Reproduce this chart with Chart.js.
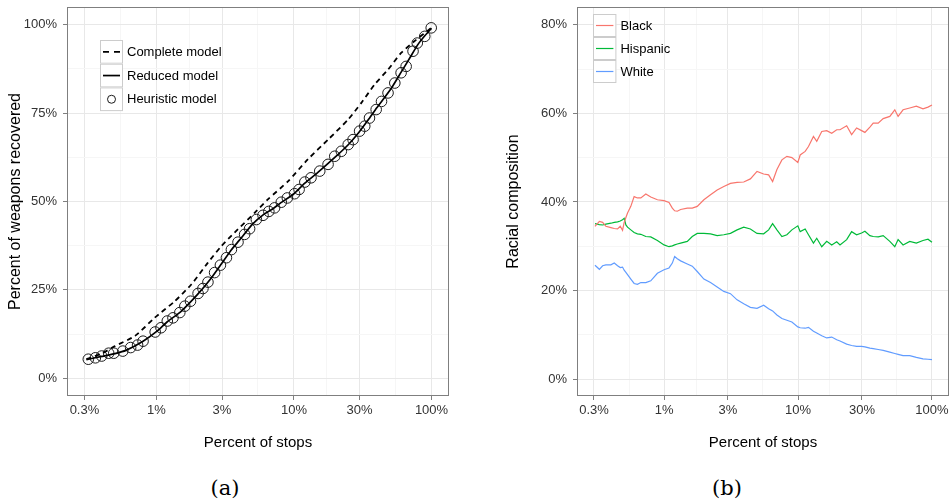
<!DOCTYPE html>
<html>
<head>
<meta charset="utf-8">
<script src="https://cdn.jsdelivr.net/npm/chart.js@4.4.1/dist/chart.umd.min.js"></script>
<style>
  body { margin:0; background:#fff; width:950px; height:502px; position:relative; overflow:hidden; }
  canvas { position:absolute; top:0; }
  #chartA { left:0; }
  #chartB { left:470px; }
  .cap { position:absolute; top:476px; line-height:24px; font-family:"DejaVu Serif", serif; font-size:21px; color:#000; transform:translateX(-50%); }
</style>
</head>
<body>
<canvas id="chartA" width="460" height="460"></canvas>
<canvas id="chartB" width="480" height="460"></canvas>
<div class="cap" style="left:225px">(a)</div>
<div class="cap" style="left:727px">(b)</div>
<script>
const FONT = '"Liberation Sans", Arial, Helvetica, sans-serif';
const MAJOR = '#e8e8e8', MINOR = '#f6f6f6', FRAME = '#7f7f7f';

// ---- panel (a): weapons recovered vs percent of stops
const heuristicStops = [0.32,0.36,0.40,0.45,0.49,0.57,0.65,0.73,0.80,0.98,1.08,1.20,1.32,1.48,1.61,1.77,2.01,2.18,2.37,2.65,2.92,3.23,3.51,3.92,4.38,4.76,5.33,5.96,6.57,7.23,8.09,8.95,10.1,10.9,12.0,13.3,15.4,17.7,19.8,22.1,24.8,26.9,30.0,32.7,35.4,39.6,43.3,48.3,54.1,60.1,65.4,73.4,78.8,89.3,99.5];
const heuristicVals = [5.4,5.8,6.3,7.1,7.1,7.7,8.7,9.4,10.5,13.1,14.3,16.2,17.1,18.6,20.4,21.8,24.0,25.4,27.2,29.9,32.0,34.1,36.4,38.5,40.7,42.3,44.9,46.1,47.2,48.2,49.8,51.0,52.2,53.4,55.5,56.7,58.6,60.5,62.8,64.2,66.1,67.5,69.9,71.3,73.6,76.0,78.3,80.7,83.5,86.4,88.2,92.5,94.8,96.7,99.1];
const reducedStops = [0.31,0.4,0.5,0.6,0.8,1,1.2,1.5,2,2.5,3,3.5,4,5,6,7,8,10,12,15,20,25,30,35,40,50,60,70,80,90,100];
const reducedVals = [5.3,6.2,7.0,7.9,10.5,13.2,16.0,18.8,23.8,28.3,32.6,36.3,39.0,43.6,46.3,47.9,49.6,52.2,55.2,58.3,62.6,66.2,69.8,73.3,76.5,81.5,86.5,90.8,94.5,97.0,99.0];
const completeStops = [0.31,0.4,0.5,0.7,0.97,1.36,1.8,2.37,2.97,3.7,5.18,6.46,9.05,12.6,17.7,24.8,30.9,38.6,48.3,60.1,75,99.5];
const completeVals = [5.4,7.0,9.1,12.0,17.1,21.8,26.6,32.7,37.4,41.2,46.8,50.6,55.7,61.9,67.5,73.2,77.9,83.1,87.3,92.0,95.3,99.1];

// ---- panel (b): racial composition vs percent of stops
const stopsB = [0.305,0.329,0.348,0.368,0.401,0.425,0.450,0.471,0.490,0.504,0.519,0.534,0.565,0.598,0.633,0.671,0.731,0.796,0.892,1.0,1.089,1.153,1.200,1.256,1.330,1.491,1.624,1.769,1.983,2.223,2.492,2.793,3.131,3.510,3.934,4.410,4.943,5.541,6.035,6.462,6.960,7.582,8.260,8.999,9.97,10.38,11.31,11.97,13.04,13.80,15.04,16.38,17.85,19.45,20.58,23.08,25.13,27.38,29.83,31.58,34.40,36.42,39.67,43.23,48.45,52.78,55.87,60.86,68.23,76.44,85.71,93.39,100];
const black = [34.5,35.6,35.4,34.5,34.2,34.0,33.9,34.5,33.6,35.4,36.5,37.5,39.0,41.2,40.9,40.9,41.8,41.1,40.5,40.3,39.9,38.6,38.0,37.9,38.3,38.6,38.6,39.0,40.5,41.6,42.7,43.5,44.2,44.4,44.5,45.2,46.9,46.3,46.1,44.6,47.3,49.5,50.3,50.0,48.9,50.6,51.4,52.5,54.8,53.7,55.9,56.1,55.5,56.3,56.3,57.2,55.2,56.7,56.1,55.7,56.9,57.8,57.8,58.8,59.3,60.8,59.3,60.8,61.2,61.6,61.0,61.4,61.9];
const hispanic = [35.1,34.9,34.8,35.0,35.2,35.4,35.5,35.7,36.0,36.3,34.8,34.3,33.7,33.1,32.8,32.7,32.2,32.1,31.3,30.3,29.9,30.1,30.3,30.5,30.7,31.1,32.2,32.9,32.9,32.8,32.4,32.6,32.9,33.7,34.3,33.9,32.9,32.8,33.7,35.1,33.7,32.2,32.6,33.7,34.6,33.3,33.9,32.6,30.7,31.8,29.9,31.1,30.3,31.0,30.3,31.5,33.3,32.6,33.0,33.4,32.4,32.2,32.1,32.4,31.1,29.9,31.5,30.3,31.1,30.7,31.3,31.6,30.9];
const white = [25.7,24.8,25.6,25.8,25.8,26.2,25.6,25.2,25.3,24.6,24.1,23.6,22.6,21.6,21.4,21.8,21.8,22.2,23.9,24.7,25.1,26.2,27.7,27.2,26.7,26.0,25.5,24.3,22.6,21.8,20.8,19.8,19.3,17.9,17.0,16.2,16.0,16.7,15.9,15.4,14.5,13.7,13.3,12.9,11.8,11.6,11.5,11.7,10.8,10.4,9.8,9.3,9.5,8.9,8.6,7.9,7.6,7.4,7.4,7.3,7.0,6.9,6.7,6.5,6.1,5.8,5.6,5.3,5.3,4.9,4.6,4.5,4.4];

// ---- ticks
const xMajor = [0.3, 1, 3, 10, 30, 100];
const xMinor = [0.548, 1.732, 5.477, 17.32, 54.77];
const yMajorA = [0, 25, 50, 75, 100], yMinorA = [12.5, 37.5, 62.5, 87.5];
const yMajorB = [0, 20, 40, 60, 80], yMinorB = [10, 30, 50, 70];

const pts = (xs, ys) => xs.map((x, i) => ({ x, y: ys[i] }));
const tickList = (a, b) => a.concat(b).sort((p, q) => p - q).map(v => ({ value: v }));

// panel border on top of everything, like ggplot's panel.border
const frame = {
  id: 'frame',
  afterDraw(chart) {
    const { ctx, chartArea: a } = chart;
    ctx.save();
    ctx.strokeStyle = FRAME;
    ctx.lineWidth = 1;
    ctx.strokeRect(a.left + 0.5, a.top + 0.5, a.right - a.left - 1, a.bottom - a.top - 1);
    ctx.restore();
  }
};

// legend with grey-bordered key boxes
const keyLegend = {
  id: 'keyLegend',
  afterDraw(chart, args, o) {
    const ctx = chart.ctx;
    chart.data.datasets.forEach((ds, i) => {
      const x = o.x, y = o.y + i * o.row, cy = y + o.row / 2;
      ctx.save();
      ctx.fillStyle = '#fff';
      ctx.fillRect(x, y, o.key, o.row);
      ctx.strokeStyle = '#cccccc';
      ctx.lineWidth = 1;
      ctx.strokeRect(x + 0.5, y + 0.5, o.key - 1, o.row - 1);
      if (ds.showLine === false) {
        ctx.beginPath();
        ctx.arc(x + o.key / 2, cy, 4, 0, Math.PI * 2);
        ctx.strokeStyle = ds.pointBorderColor;
        ctx.stroke();
      } else {
        ctx.beginPath();
        ctx.setLineDash(ds.borderDash ? [6, 5] : []);
        ctx.moveTo(x + 3, cy);
        ctx.lineTo(x + o.key - 3, cy);
        ctx.strokeStyle = ds.borderColor;
        ctx.lineWidth = ds.borderWidth;
        ctx.stroke();
      }
      ctx.setLineDash([]);
      ctx.fillStyle = '#000';
      ctx.font = '13px ' + FONT;
      ctx.textBaseline = 'middle';
      ctx.fillText(ds.label, x + o.key + 4, cy + 0.5);
      ctx.restore();
    });
  }
};

function xScale() {
  return {
    type: 'logarithmic', min: 0.224, max: 134,
    afterBuildTicks: s => { s.ticks = tickList(xMajor, xMinor); },
    afterFit: s => { s.height = 64; s.paddingLeft = 0; s.paddingRight = 0; },
    ticks: {
      autoSkip: false, maxRotation: 0, minRotation: 0, padding: 3,
      color: '#333', font: { family: FONT, size: 13 },
      callback: v => xMajor.includes(v) ? v + '%' : ''
    },
    grid: {
      color: c => xMajor.includes(c.tick.value) ? MAJOR : MINOR,
      tickColor: c => xMajor.includes(c.tick.value) ? FRAME : 'rgba(0,0,0,0)',
      tickLength: 4, lineWidth: 1
    },
    border: { display: false },
    title: { display: true, text: 'Percent of stops', color: '#000', font: { family: FONT, size: 15 }, padding: { top: 0, bottom: 8 } }
  };
}

function yScale(major, minor, min, max, width, titlePad, text) {
  return {
    type: 'linear', min, max,
    afterBuildTicks: s => { s.ticks = tickList(major, minor); },
    afterFit: s => { s.width = width; s.paddingTop = 0; s.paddingBottom = 0; },
    ticks: {
      autoSkip: false, padding: 6,
      color: '#333', font: { family: FONT, size: 13 },
      callback: v => major.includes(v) ? v + '%' : ''
    },
    grid: {
      color: c => major.includes(c.tick.value) ? MAJOR : MINOR,
      tickColor: c => major.includes(c.tick.value) ? FRAME : 'rgba(0,0,0,0)',
      tickLength: 4, lineWidth: 1
    },
    border: { display: false },
    title: { display: true, text, color: '#000', font: { family: FONT, size: 16 }, padding: { top: titlePad, bottom: 0 } }
  };
}

const common = {
  responsive: false, animation: false, events: [],
  plugins: { legend: { display: false }, tooltip: { enabled: false } }
};

new Chart(document.getElementById('chartA'), {
  type: 'line',
  data: {
    datasets: [
      { label: 'Complete model', data: pts(completeStops, completeVals), borderColor: '#000', borderWidth: 1.8, borderDash: [5, 4], pointRadius: 0, tension: 0.2 },
      { label: 'Reduced model', data: pts(reducedStops, reducedVals), borderColor: '#000', borderWidth: 1.7, pointRadius: 0, tension: 0.2 },
      { label: 'Heuristic model', data: pts(heuristicStops, heuristicVals), showLine: false, pointRadius: 5.3, pointBorderColor: '#1a1a1a', pointBackgroundColor: 'rgba(0,0,0,0)', pointBorderWidth: 1 }
    ]
  },
  options: {
    ...common,
    layout: { padding: { top: 7, right: 11, left: 0, bottom: 0 } },
    scales: { x: xScale(), y: yScale(yMajorA, yMinorA, -5, 105, 67, 6, 'Percent of weapons recovered') },
    plugins: { ...common.plugins, keyLegend: { x: 100, y: 40, key: 23, row: 23.7 } }
  },
  plugins: [frame, keyLegend]
});

new Chart(document.getElementById('chartB'), {
  type: 'line',
  data: {
    datasets: [
      { label: 'Black', data: pts(stopsB, black), borderColor: '#F8766D', borderWidth: 1.2, pointRadius: 0 },
      { label: 'Hispanic', data: pts(stopsB, hispanic), borderColor: '#00BA38', borderWidth: 1.2, pointRadius: 0 },
      { label: 'White', data: pts(stopsB, white), borderColor: '#619CFF', borderWidth: 1.2, pointRadius: 0 }
    ]
  },
  options: {
    ...common,
    layout: { padding: { top: 7, right: 1, left: 0, bottom: 0 } },
    scales: { x: xScale(), y: yScale(yMajorB, yMinorB, -3.8, 84, 107, 34, 'Racial composition') },
    plugins: { ...common.plugins, keyLegend: { x: 123, y: 14, key: 23.4, row: 23 } }
  },
  plugins: [frame, keyLegend]
});
</script>
</body>
</html>
